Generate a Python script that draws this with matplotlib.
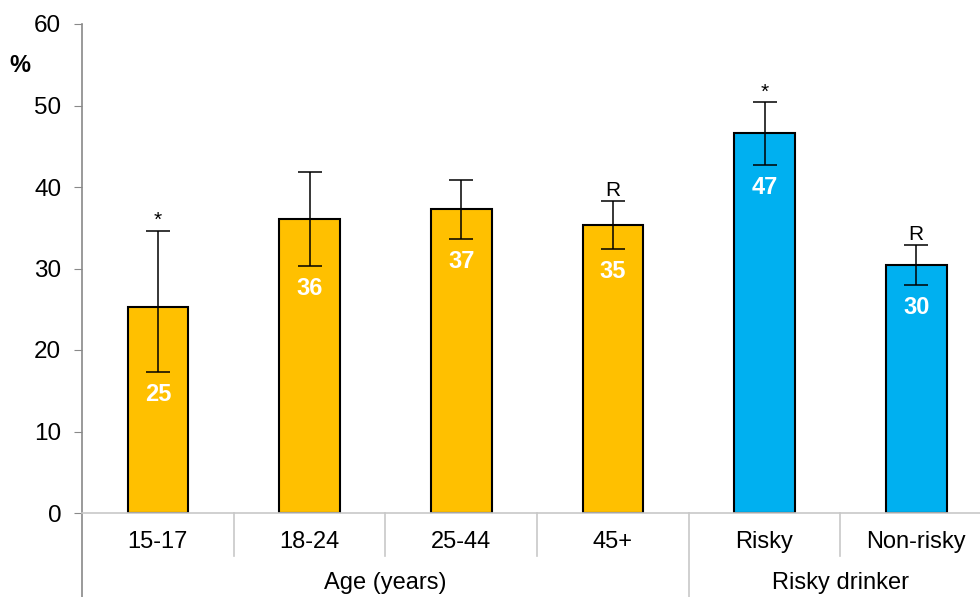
import numpy as np
import matplotlib.pyplot as plt
import matplotlib.transforms as mtransforms

plt.rcParams['font.family'] = ['Liberation Sans', 'DejaVu Sans']

categories = ['15-17', '18-24', '25-44', '45+', 'Risky', 'Non-risky']
values = [25.3, 36.1, 37.3, 35.3, 46.6, 30.4]
err_low = [17.3, 30.3, 33.6, 32.4, 42.7, 28.0]
err_high = [34.6, 41.8, 40.9, 38.3, 50.4, 32.9]
flags = ['*', '', '', 'R', '*', 'R']
groups = ['Age (years)', 'Age (years)', 'Age (years)', 'Age (years)',
          'Risky drinker', 'Risky drinker']
group_colors = {'Age (years)': '#FFC000', 'Risky drinker': '#00B0F0'}

fig = plt.figure(figsize=(9.8, 5.97), dpi=100)
ax = fig.add_axes([82 / 980, 1 - 513 / 597, 910 / 980, 489 / 597])

x = np.arange(len(categories))
vals = np.array(values)
lo = vals - np.array(err_low)
hi = np.array(err_high) - vals
colors = [group_colors[g] for g in groups]

ax.bar(x, vals, width=0.4, color=colors, edgecolor='black', linewidth=1.5, zorder=2)
ax.errorbar(x, vals, yerr=[lo, hi], fmt='none', ecolor='black', elinewidth=1.1,
            capsize=8.5, capthick=1.1, zorder=3)

for i, v in enumerate(vals):
    ax.annotate(f'{v:.0f}', (x[i], err_low[i]), xytext=(0, -8), textcoords='offset points',
                ha='center', va='top', color='white', fontsize=17, fontweight='bold', zorder=4)
    if flags[i]:
        ax.annotate(flags[i], (x[i], err_high[i]), xytext=(0, 0.5), textcoords='offset points',
                    ha='center', va='bottom', color='black', fontsize=15, zorder=4)

ax.set_xlim(-0.5, len(categories) - 0.5)
ax.set_ylim(0, 60)
ax.set_yticks(np.arange(0, 61, 10))
ax.tick_params(axis='y', labelsize=17.5, length=6, color='#898989', pad=9, direction='out')
ax.set_xticks(x)
ax.set_xticklabels(categories)
ax.tick_params(axis='x', labelsize=17, length=0, pad=13)

for side in ['top', 'right']:
    ax.spines[side].set_visible(False)
ax.spines['left'].set_color('#898989')
ax.spines['left'].set_linewidth(1.2)
ax.spines['bottom'].set_color('#C8C8C8')
ax.spines['bottom'].set_linewidth(1.2)

# separators under the axis: short between categories, long between groups
trans = mtransforms.blended_transform_factory(ax.transData, ax.transAxes)
for i in range(len(categories)):
    edge = i - 0.5
    if i == 0:
        ax.plot([edge, edge], [0, -0.2], transform=trans, color='#898989', lw=1.2, clip_on=False)
    elif groups[i] != groups[i - 1]:
        ax.plot([edge, edge], [0, -0.2], transform=trans, color='#C8C8C8', lw=1.2, clip_on=False)
    else:
        ax.plot([edge, edge], [0, -0.088], transform=trans, color='#C8C8C8', lw=1.2, clip_on=False)

for g in dict.fromkeys(groups):
    idx = [i for i, gg in enumerate(groups) if gg == g]
    ax.text(np.mean(idx), -0.143, g, transform=trans, ha='center', va='center', fontsize=17)

fig.text(20 / 980, 1 - 65 / 597, '%', ha='center', va='center', fontsize=17, fontweight='bold')

fig.savefig('out.png', dpi=100)
